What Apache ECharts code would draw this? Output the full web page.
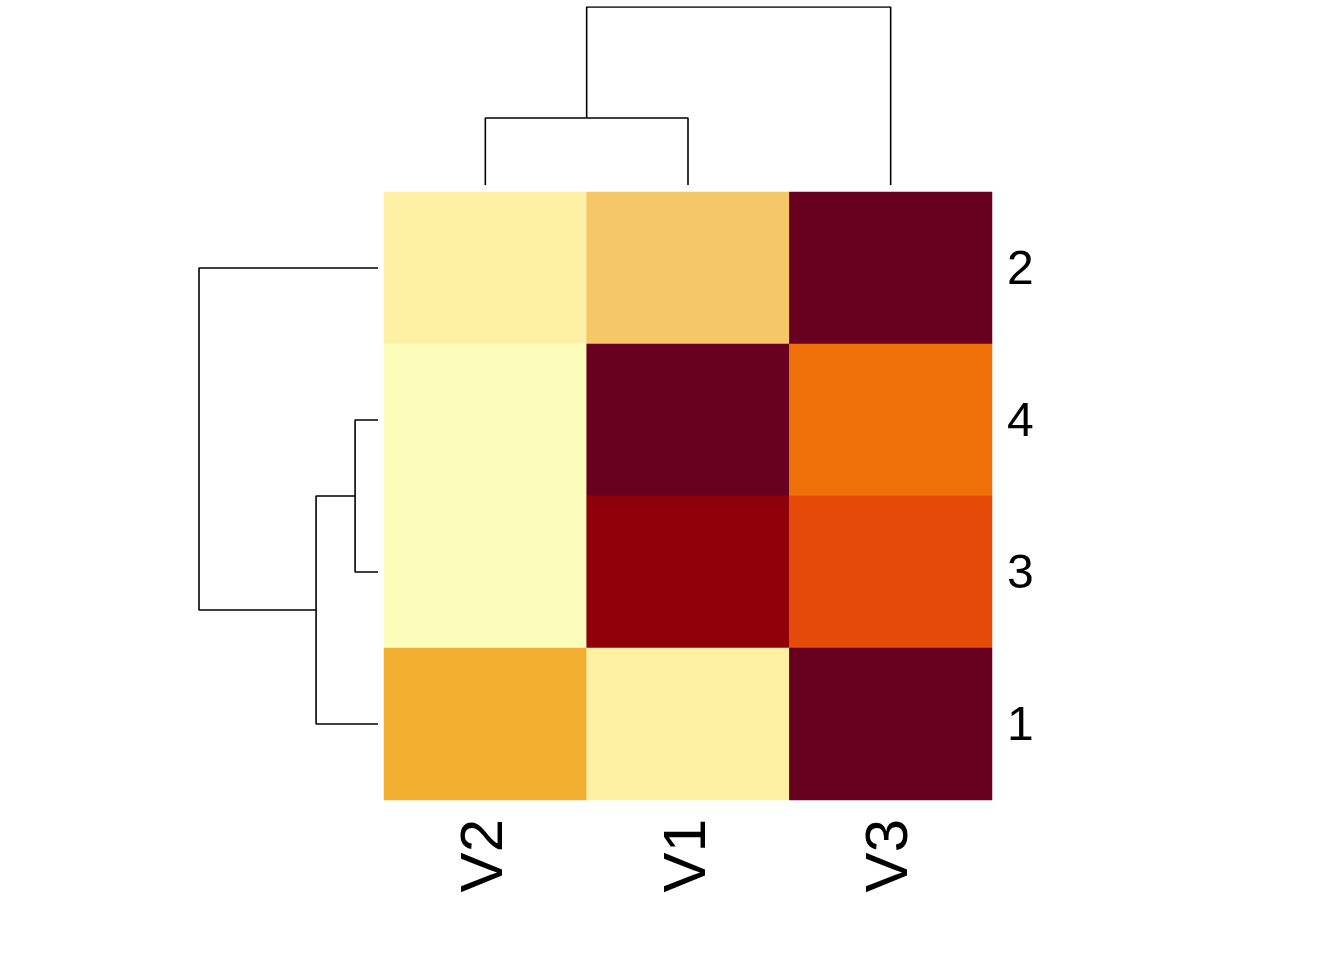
<!DOCTYPE html>
<html>
<head>
<meta charset="utf-8">
<script src="https://cdn.jsdelivr.net/npm/echarts@6/dist/echarts.min.js"></script>
<style>
  html, body { margin: 0; padding: 0; background: #fff; }
  #chart { width: 1344px; height: 960px; }
</style>
</head>
<body>
<div id="chart"></div>
<script>
// ---- data ----
const colLabels = ['V2', 'V1', 'V3'];          // column order after clustering
const rowLabels = ['2', '4', '3', '1'];        // row order, top to bottom
// colour level of each cell (1 = darkest red ... 11 = palest yellow), rows in rowLabels order
const row2Values = [10, 8, 1];
const row4Values = [11, 1, 5];
const row3Values = [11, 2, 4];
const row1Values = [7, 10, 1];
// dendrogram merges: [left child, right child, height]; children are labels or 'm<k>' (k-th merge, 1-based)
const colMerges = [['V2', 'V1', 37.6], ['m1', 'V3', 100]];
const rowMerges = [['4', '3', 12.8], ['m1', '1', 34.6], ['2', 'm2', 100]];

// ---- build ----
const palette = ['#680020', '#8F000A', '#B8190A', '#E54A08', '#ED7009', '#F08F1C',
                 '#F2AE30', '#F5C767', '#F9DC88', '#FEF1A6', '#FDFDBB'];
const pieces = palette.map((c, i) => ({ value: i + 1, color: c }));

const matrix = [row2Values, row4Values, row3Values, row1Values];
const heatData = [];
matrix.forEach((row, r) => row.forEach((v, c) => heatData.push([c, r, v])));

function dendroSegments(merges, labels) {
  const pos = {}, hgt = {};
  labels.forEach((l, i) => { pos[l] = i + 0.5; hgt[l] = 0; });
  const segs = [];
  merges.forEach((m, k) => {
    const [a, b, h] = m;
    segs.push([[pos[a], hgt[a]], [pos[a], h], [pos[b], h], [pos[b], hgt[b]]]);
    const key = 'm' + (k + 1);
    pos[key] = (pos[a] + pos[b]) / 2;
    hgt[key] = h;
  });
  return segs;
}
const colSegs = dendroSegments(colMerges, colLabels);
const rowSegs = dendroSegments(rowMerges, rowLabels);
const colMax = Math.max(...colMerges.map(m => m[2]));
const rowMax = Math.max(...rowMerges.map(m => m[2]));

const lineStyle = { color: '#000', width: 1.6 };
const series = [{
  type: 'heatmap',
  xAxisIndex: 0, yAxisIndex: 0,
  data: heatData,
  itemStyle: { borderWidth: 0 },
  emphasis: { disabled: true },
  silent: true
}];
colSegs.forEach(s => series.push({
  type: 'line', xAxisIndex: 1, yAxisIndex: 1, data: s,
  symbol: 'none', lineStyle, silent: true, animation: false
}));
rowSegs.forEach(s => series.push({
  type: 'line', xAxisIndex: 2, yAxisIndex: 2,
  data: s.map(p => [p[1], p[0]]),
  symbol: 'none', lineStyle, silent: true, animation: false
}));

const font = 'Liberation Sans, Arial, sans-serif';
const chart = echarts.init(document.getElementById('chart'), null, { renderer: 'canvas' });
chart.setOption({
  animation: false,
  backgroundColor: '#fff',
  grid: [
    { left: 384, top: 192, width: 608, height: 608 },
    { left: 384, top: 7, width: 608, height: 178 },
    { left: 199, top: 192, width: 179, height: 608 }
  ],
  xAxis: [
    { gridIndex: 0, type: 'category', data: colLabels, position: 'bottom',
      axisLine: { show: false }, axisTick: { show: false }, splitLine: { show: false },
      axisLabel: { rotate: 90, fontSize: 60, margin: 19, color: '#000', fontFamily: font } },
    { gridIndex: 1, type: 'value', min: 0, max: colLabels.length, show: false },
    { gridIndex: 2, type: 'value', min: 0, max: rowMax, inverse: true, show: false }
  ],
  yAxis: [
    { gridIndex: 0, type: 'category', data: rowLabels, inverse: true, position: 'right',
      axisLine: { show: false }, axisTick: { show: false }, splitLine: { show: false },
      axisLabel: {
        margin: 15,
        formatter: v => '{a|' + v + '}',
        rich: { a: { fontSize: 48, color: '#000', fontFamily: font, padding: [6, 0, 0, 0] } }
      } },
    { gridIndex: 1, type: 'value', min: 0, max: colMax, show: false },
    { gridIndex: 2, type: 'value', min: 0, max: rowLabels.length, inverse: true, show: false }
  ],
  visualMap: {
    type: 'piecewise', show: false, seriesIndex: 0, dimension: 2, pieces: pieces
  },
  series: series
});
</script>
</body>
</html>
